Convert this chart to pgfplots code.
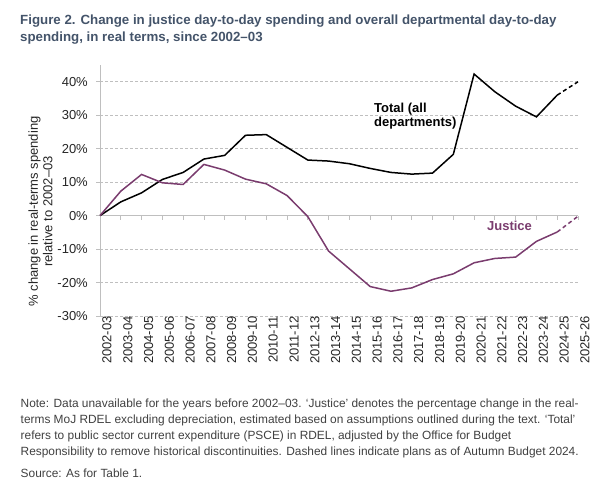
\documentclass[border=0pt]{standalone}
\usepackage{fontspec}
\setmainfont{Liberation Sans}
\usepackage{pgfplots}
\usepackage{pgfplotstable}
\pgfplotsset{compat=1.18}
\definecolor{titlec}{RGB}{68,84,106}
\definecolor{notec}{RGB}{64,64,64}
\definecolor{tickc}{RGB}{38,38,38}
\definecolor{justice}{RGB}{122,60,110}
\definecolor{gridc}{RGB}{191,191,191}
\pgfplotstableread{
x total justice
0 0 0
1 4.1 7.3
2 6.8 12.3
3 10.8 9.8
4 12.9 9.3
5 16.9 15.3
6 18.0 13.6
7 24.0 10.9
8 24.2 9.5
9 20.4 6.0
10 16.6 -0.3
11 16.3 -10.6
12 15.5 -15.9
13 14.1 -21.2
14 12.9 -22.6
15 12.4 -21.6
16 12.7 -19.1
17 18.3 -17.4
18 42.3 -14.1
19 37.0 -12.8
20 32.7 -12.4
21 29.5 -7.7
22 36.0 -4.9
}\actual
\pgfplotstableread{
x total justice
22 36.0 -4.9
23 40.0 -0.2
}\plans
\begin{document}
\begin{tikzpicture}
\useasboundingbox (0pt,0pt) rectangle (604pt,-490pt);
\node[anchor=base west, font=\fontsize{13.3}{16}\selectfont\bfseries, text=titlec, inner sep=0] at (20pt,-24pt) {Figure 2. Change in justice day-to-day spending and overall departmental day-to-day};
\node[anchor=base west, font=\fontsize{13.3}{16}\selectfont\bfseries, text=titlec, inner sep=0] at (20pt,-41pt) {spending, in real terms, since 2002--03};
\begin{axis}[
  at={(100pt,-316pt)}, anchor=south west,
  scale only axis, width=478pt, height=251pt,
  xmin=0, xmax=23, ymin=-30, ymax=45,
  axis y line*=left, axis x line*=bottom,
  x axis line style={draw=none},
  y axis line style={draw=gridc, line width=0.8pt},
  xtick={0,...,23},
  xticklabels={2002-03,2003-04,2004-05,2005-06,2006-07,2007-08,2008-09,2009-10,2010-11,2011-12,2012-13,2013-14,2014-15,2015-16,2016-17,2017-18,2018-19,2019-20,2020-21,2021-22,2022-23,2023-24,2024-25,2025-26},
  xtick style={draw=none},
  xticklabel style={rotate=90, anchor=east, font=\fontsize{13}{15}\selectfont, text=tickc, inner sep=0pt, yshift=-7pt},
  ytick={-30,-20,...,40},
  yticklabels={-30\%,-20\%,-10\%,0\%,10\%,20\%,30\%,40\%},
  ytick style={draw=gridc, line width=0.8pt},
  ytick align=outside, major tick length=4pt,
  yticklabel style={font=\fontsize{13}{15}\selectfont, text=tickc, inner sep=0pt, xshift=-8pt},
  ymajorgrids, grid style={draw=gridc, dashed, line width=0.8pt, dash pattern=on 3pt off 2pt},
  clip=false,
]
\draw[gridc, line width=0.8pt] (axis cs:0,0) -- (axis cs:23,0);
\pgfplotsinvokeforeach{1,...,23}{\draw[gridc, line width=0.8pt] (axis cs:#1,0) -- ++(0pt,-4pt);}
\addplot[black, line width=1.5pt, no marks] table[x=x, y=total] {\actual};
\addplot[black, line width=1.5pt, no marks, dash pattern=on 4pt off 3pt] table[x=x, y=total] {\plans};
\addplot[justice, line width=1.5pt, no marks] table[x=x, y=justice] {\actual};
\addplot[justice, line width=1.5pt, no marks, dash pattern=on 4pt off 3pt] table[x=x, y=justice] {\plans};
\end{axis}
\node[anchor=base west, font=\fontsize{13}{15}\selectfont\bfseries, align=left, inner sep=0] at (374pt,-112.5pt) {Total (all};
\node[anchor=base west, font=\fontsize{13}{15}\selectfont\bfseries, align=left, inner sep=0] at (374pt,-126.5pt) {departments)};
\node[font=\fontsize{13}{15}\selectfont\bfseries, text=justice, inner sep=0] at (509.5pt,-226pt) {Justice};
\node[rotate=90, align=center, font=\fontsize{13}{14.5}\selectfont, text=tickc, inner sep=0] at (40.5pt,-211.5pt) {\% change in real-terms spending\\relative to 2002--03};
\begin{scope}[every node/.style={anchor=base west, font=\fontsize{11.9}{14}\selectfont, text=notec, inner sep=0}]
\node at (20.5pt,-407.5pt) {Note: Data unavailable for the years before 2002--03. `Justice' denotes the percentage change in the real-};
\node at (20.5pt,-423.5pt) {terms MoJ RDEL excluding depreciation, estimated based on assumptions outlined during the text. `Total'};
\node at (20.5pt,-439.5pt) {refers to public sector current expenditure (PSCE) in RDEL, adjusted by the Office for Budget};
\node at (20.5pt,-455.5pt) {Responsibility to remove historical discontinuities. Dashed lines indicate plans as of Autumn Budget 2024.};
\node at (20.5pt,-477.5pt) {Source: As for Table 1.};
\end{scope}
\end{tikzpicture}
\end{document}
